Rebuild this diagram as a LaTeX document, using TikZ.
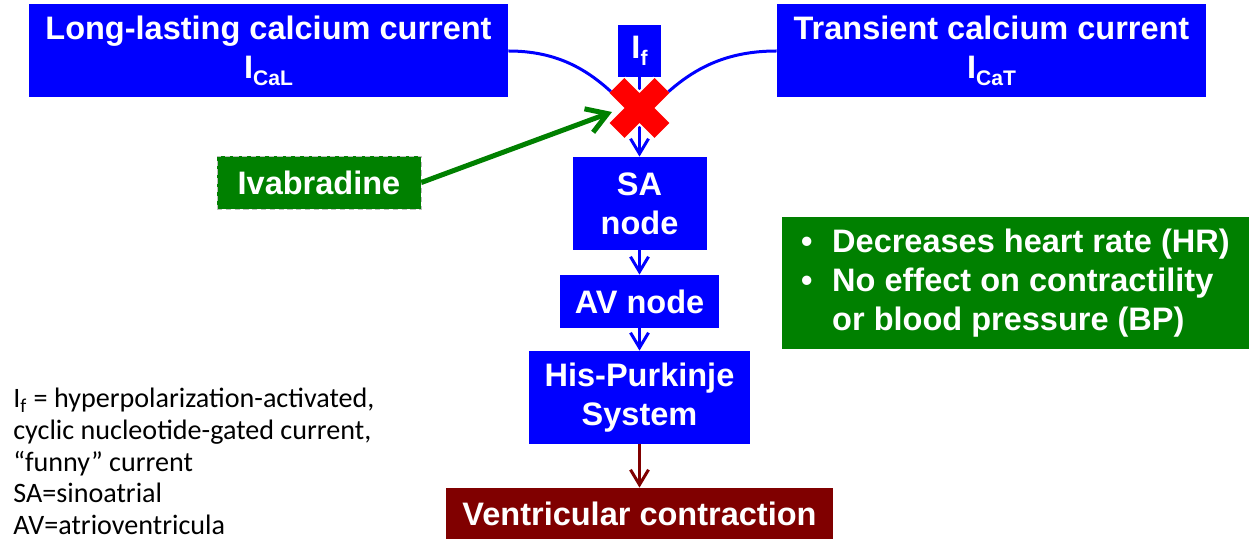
\documentclass[tikz,border=0pt]{standalone}
\usepackage{fontspec}
\setmainfont{Liberation Sans}
\newfontfamily\notefont{Carlito}
\usepackage{tikz}
\usetikzlibrary{arrows.meta}

\definecolor{ivagreen}{RGB}{0,128,0}
\definecolor{vcred}{RGB}{128,0,0}
\newcommand{\cursub}[1]{I\raisebox{-0.22em}{\fontsize{12}{12}\selectfont #1}}

\begin{document}
\begin{tikzpicture}[node distance = 3cm,
        box/.style = {fill=blue, text=white, inner sep=0pt, align=center,
            font=\bfseries\fontsize{18.5}{22}\selectfont},
        flow/.style = {blue, line width=0.06cm,
            -{Straight Barb[length=0.3cm, width=0.36cm]}}]
        \useasboundingbox (-12.79,1.02) rectangle (12.21,-9.76);

        \node [box, minimum width=0.86cm, minimum height=1.04cm] (If) at (0,0)
        {\cursub{f}};
        \node [box, minimum width=9.58cm, minimum height=1.86cm, left of = If,
        node distance = 7.42cm] (CaL)
        {Long-lasting calcium current\\\cursub{CaL}};
        \node [box, minimum width=8.58cm, minimum height=1.86cm, right of = If,
        node distance = 7.04cm] (CaT)
        {Transient calcium current\\\cursub{CaT}};

        \node [box, minimum width=2.68cm, minimum height=1.86cm, below of = If,
        node distance = 3.05cm] (SA) {SA\\node};
        \node [box, minimum width=3.16cm, minimum height=1.06cm, below of = SA,
        node distance = 1.96cm] (AV) {AV node};
        \node [box, minimum width=4.4cm, minimum height=1.86cm, below of = AV,
        node distance = 1.92cm] (HP) {His-Purkinje\\System};
        \node [box, fill=vcred, minimum width=7.74cm, minimum height=1.02cm,
        below of = HP, node distance = 2.32cm] (VC) {Ventricular contraction};

        \node [box, fill=ivagreen, draw=black!25, densely dashed, thin,
        minimum width=4.08cm, minimum height=1.06cm, left of = SA,
        node distance = 6.41cm, yshift=0.42cm] (Ivab) {Ivabradine};

        \node [box, fill=ivagreen, align=left, minimum width=9.34cm,
        minimum height=2.64cm, right of = AV, node distance = 7.52cm,
        yshift=0.37cm] (HR)
        {\makebox[0.62cm][l]{\textbullet}Decreases heart rate (HR)\\
        \makebox[0.62cm][l]{\textbullet}No effect on contractility\\
        \hspace*{0.62cm}or blood pressure (BP)};

        \node [anchor=north west, align=left, inner sep=0pt,
        font=\notefont\fontsize{16}{18}\selectfont] (notes) at (-12.53,-6.74)
        {I\textsubscript{f} = hyperpolarization-activated,\\
        cyclic nucleotide-gated current,\\
        “funny” current\\
        SA=sinoatrial\\
        AV=atrioventricula};

        % currents meeting at the blocked channel
        \coordinate (meet) at (0,-1.42);
        \draw [blue, line width=0.06cm] (CaL.east) to [out=0, in=130] (meet);
        \draw [blue, line width=0.06cm] (CaT.west) to [out=180, in=50] (meet);
        \draw [flow] (If) -- (SA);
        \draw [flow] (SA) -- (AV);
        \draw [flow] (AV) -- (HP);
        \draw [flow, vcred] (HP) -- (VC);

        \coordinate (block) at (0,-1.14);
        \draw [red, line width=0.42cm,
        preaction={draw=white, line width=0.5cm}]
        ([shift={(-0.45,0.45)}]block) -- ([shift={(0.45,-0.45)}]block)
        ([shift={(0.45,0.45)}]block) -- ([shift={(-0.45,-0.45)}]block);

        \coordinate (tip) at (-0.55,-1.22);
        \draw [ivagreen, line width=0.1cm,
        -{Straight Barb[length=0.4cm, width=0.5cm]}] (Ivab.east) -- (tip);
    \end{tikzpicture}
\end{document}
